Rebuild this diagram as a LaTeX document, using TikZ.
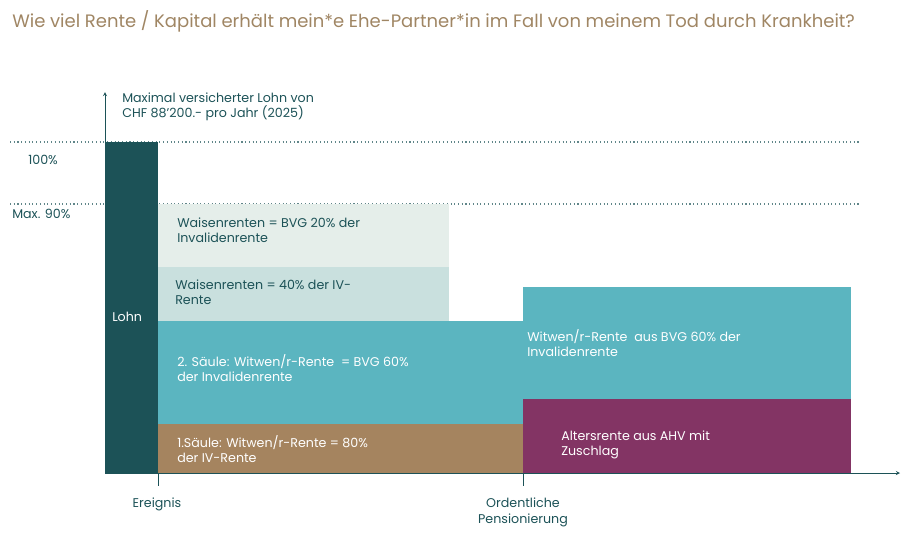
\documentclass[tikz,border=0pt]{standalone}
\usepackage{fontspec}
\setmainfont{Poppins}
\definecolor{dteal}{HTML}{1C5257}
\definecolor{ttl}{HTML}{A08664}
\definecolor{pale}{HTML}{E5EEEA}
\definecolor{pale2}{HTML}{C9E0DE}
\definecolor{cyan}{HTML}{5BB5C0}
\definecolor{brn}{HTML}{A5845F}
\definecolor{plum}{HTML}{833464}
\begin{document}
\begin{tikzpicture}[x=0.75pt,y=-0.75pt,
  lbl/.style={font=\fontsize{9.5pt}{11.5pt}\selectfont,align=left,anchor=west,inner sep=0pt},
  bar/.style={draw=none}]
\useasboundingbox (0,0) rectangle (907,540);
\node[anchor=north west,inner sep=0pt,text width=632pt,align=justify,text=ttl,font=\fontsize{13.5pt}{19pt}\selectfont] (t) at (12,10) {Wie viel Rente / Kapital erhält mein*e Ehe-Partner*in im Fall von meinem Tod durch Krankheit?};
\draw[dteal!70,dotted,thick] (10,142) -- (860,142);
\draw[dteal!70,dotted,thick] (10,204) -- (860,204);
\node[lbl,text=dteal] (p100) at (28,160) {100\%};
\node[lbl,text=dteal] (p90) at (12,214) {Max. 90\%};
\fill[dteal] (105,142) rectangle (158,473);
\node[lbl,text=white] (lohn) at (112,317) {Lohn};
\fill[pale] (158,204) rectangle (449,267);
\node[lbl,text=dteal] (w1) at (177,230) {Waisenrenten = BVG 20\% der\\Invalidenrente};
\fill[pale2] (158,267) rectangle (449,321);
\node[lbl,text=dteal] (w2) at (175,292) {Waisenrenten = 40\% der IV-\\Rente};
\fill[cyan] (158,321) rectangle (523,424);
\node[lbl,text=white] (s2) at (177,368) {2. Säule: Witwen/r-Rente\ \ = BVG 60\%\\der Invalidenrente};
\fill[brn] (158,424) rectangle (523,473);
\node[lbl,text=white] (s1) at (177,449) {1.Säule: Witwen/r-Rente = 80\%\\der IV-Rente};
\fill[cyan] (523,287) rectangle (851,399);
\node[lbl,text=white] (wr) at (527,343) {Witwen/r-Rente\ \ aus BVG 60\% der\\Invalidenrente};
\fill[plum] (523,399) rectangle (851,473);
\node[lbl,text=white] (ar) at (561,445) {Altersrente aus AHV mit\\Zuschlag};
\coordinate (o) at (105,473);
\coordinate (ytop) at (105,92);
\coordinate (xend) at (900,473);
\draw[dteal,-stealth] (o) -- (ytop);
\draw[dteal,-stealth] (o) -- (xend);
\node[lbl,text=dteal] (ml) at (122,107) {Maximal versicherter Lohn von\\CHF 88'200.- pro Jahr (2025)};
\coordinate (e1) at (158,473); \coordinate (e2) at (158,486);
\coordinate (f1) at (523,473); \coordinate (f2) at (523,486);
\draw[dteal] (e1) -- (e2);
\draw[dteal] (f1) -- (f2);
\node[lbl,text=dteal,anchor=north] (er) at (157,498) {Ereignis};
\node[lbl,text=dteal,anchor=north,align=center] (op) at (523,498) {Ordentliche\\Pensionierung};
\end{tikzpicture}
\end{document}
